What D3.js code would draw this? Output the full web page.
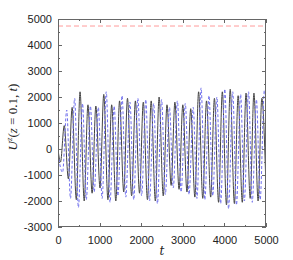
<!DOCTYPE html>
<html><head><meta charset="utf-8">
<script src="https://cdn.jsdelivr.net/npm/d3@7"></script>
<style>body{margin:0;background:#fff}svg{display:block}</style>
</head><body>
<script>
const xTicks = [0,1000,2000,3000,4000,5000];
const yTicks = [-3000,-2000,-1000,0,1000,2000,3000,4000,5000];
const refLevel = [4730];
const tBlack = [0,60,150,250,340,440,530,630,720,820,910,1010,1100,1200,1290,1390,1480,1580,1670,1770,1860,1960,2050,2150,2240,2340,2430,2530,2620,2720,2810,2910,3000,3100,3190,3290,3380,3480,3570,3670,3760,3860,3950,4050,4140,4240,4330,4430,4520,4620,4710,4810,4900,5000];
const vBlack = [0,-500,900,-1150,1600,-1950,2200,-2000,1700,-1700,1650,-1500,2100,-1950,1700,-2000,1850,-1650,1950,-1800,1850,-1700,1800,-1950,1850,-2000,2000,-1800,1700,-1400,1800,-1550,1700,-1650,1550,-1850,2200,-1900,1850,-1850,1950,-2050,2200,-2150,2300,-2100,2050,-2050,2150,-1900,2150,-2000,1950,-1500];
const tBlue = [0,110,210,300,400,490,590,680,780,870,970,1060,1160,1250,1350,1440,1540,1630,1730,1820,1920,2010,2110,2200,2300,2390,2490,2580,2680,2770,2870,2960,3060,3150,3250,3340,3440,3530,3630,3720,3820,3910,4010,4100,4200,4290,4390,4480,4580,4670,4770,4860,4960,5000];
const vBlue = [-200,-900,1500,-1900,1950,-2250,1750,-1950,1650,-1650,1600,-1900,2200,-2050,1650,-1800,2050,-1850,1800,-1950,1950,-1800,1900,-2000,1750,-2100,1900,-1750,1600,-1500,1850,-1650,1750,-1750,1600,-1900,2350,-1950,2050,-1800,2000,-2100,2300,-2300,2200,-2150,2100,-2000,2200,-2050,1900,-1950,2250,1800];

const W=293,H=260, L=58,R=266,T=19,B=227;
const svg=d3.select("body").append("svg").attr("width",W).attr("height",H);
const x=d3.scaleLinear().domain([0,5000]).range([L,R]);
const y=d3.scaleLinear().domain([-3000,5000]).range([B,T]);

svg.append("clipPath").attr("id","clip").append("rect").attr("x",L).attr("y",T).attr("width",R-L).attr("height",B-T);

const line=d3.line().x(d=>x(d[0])).y(d=>y(d[1])).curve(d3.curveMonotoneX);
const g=svg.append("g").attr("clip-path","url(#clip)");
g.append("path").datum(tBlack.map((t,i)=>[t,vBlack[i]])).attr("d",line)
 .attr("fill","none").attr("stroke","#444").attr("stroke-width",1);
g.append("path").datum(tBlue.map((t,i)=>[t,vBlue[i]])).attr("d",line)
 .attr("fill","none").attr("stroke","#7070ee").attr("stroke-width",1).attr("stroke-dasharray","3,2");
g.selectAll("line.ref").data(refLevel).join("line").attr("class","ref")
 .attr("x1",L).attr("x2",R).attr("y1",d=>y(d)).attr("y2",d=>y(d))
 .attr("stroke","#ff9a9a").attr("stroke-width",1).attr("stroke-dasharray","5,3");

const fs="11px";
const axB=d3.axisBottom(x).tickValues(xTicks).tickSize(0).tickPadding(9).tickFormat(d3.format("d"));
const gb=svg.append("g").attr("transform",`translate(0,${B})`).call(axB);
gb.select(".domain").remove();
gb.selectAll("text").attr("font-family","Liberation Sans, Arial, sans-serif").attr("font-size",fs).attr("fill","#222");
const axL=d3.axisLeft(y).tickValues(yTicks).tickSize(0).tickPadding(6).tickFormat(d=>d<0?"-"+Math.abs(d):String(d));
const gl=svg.append("g").attr("transform",`translate(${L},0)`).call(axL);
gl.select(".domain").remove();
gl.selectAll("text").attr("font-family","Liberation Sans, Arial, sans-serif").attr("font-size",fs).attr("fill","#222");

const xMinor=d3.range(0,5001,500), yMinor=d3.range(-3000,5001,500);
const tk=svg.append("g").attr("stroke","#666").attr("stroke-width",1);
xMinor.forEach(v=>{const big=v%1000===0, len=big?4:2, px=Math.round(x(v))+0.5;
  tk.append("line").attr("x1",px).attr("x2",px).attr("y1",B).attr("y2",B-len);
  tk.append("line").attr("x1",px).attr("x2",px).attr("y1",T).attr("y2",T+len);});
yMinor.forEach(v=>{const big=v%1000===0, len=big?4:2, py=Math.round(y(v))+0.5;
  tk.append("line").attr("x1",L).attr("x2",L+len).attr("y1",py).attr("y2",py);
  tk.append("line").attr("x1",R).attr("x2",R-len).attr("y1",py).attr("y2",py);});
svg.append("rect").attr("x",L+0.5).attr("y",T+0.5).attr("width",R-L-1).attr("height",B-T-1)
 .attr("fill","none").attr("stroke","#666").attr("stroke-width",1);

svg.append("text").attr("x",(L+R)/2).attr("y",255).attr("text-anchor","middle")
 .attr("font-family","DejaVu Serif, Liberation Serif, serif").attr("font-style","italic").attr("font-size","12px").attr("fill","#222").text("t");
const yl=svg.append("text").attr("transform",`translate(17,${(T+B)/2 - 6}) rotate(-90)`).attr("text-anchor","middle")
 .attr("font-family","Liberation Serif, DejaVu Serif, serif").attr("font-size","13px").attr("fill","#222");
yl.append("tspan").attr("font-style","italic").text("U");
yl.append("tspan").attr("font-style","italic").attr("font-size","9px").attr("dy","-5").text("z");
yl.append("tspan").attr("dy","5").text("(");
yl.append("tspan").attr("font-style","italic").text("z");
yl.append("tspan").text(" = 0.1, ");
yl.append("tspan").attr("font-style","italic").text("t");
yl.append("tspan").text(")");
</script>
</body></html>
